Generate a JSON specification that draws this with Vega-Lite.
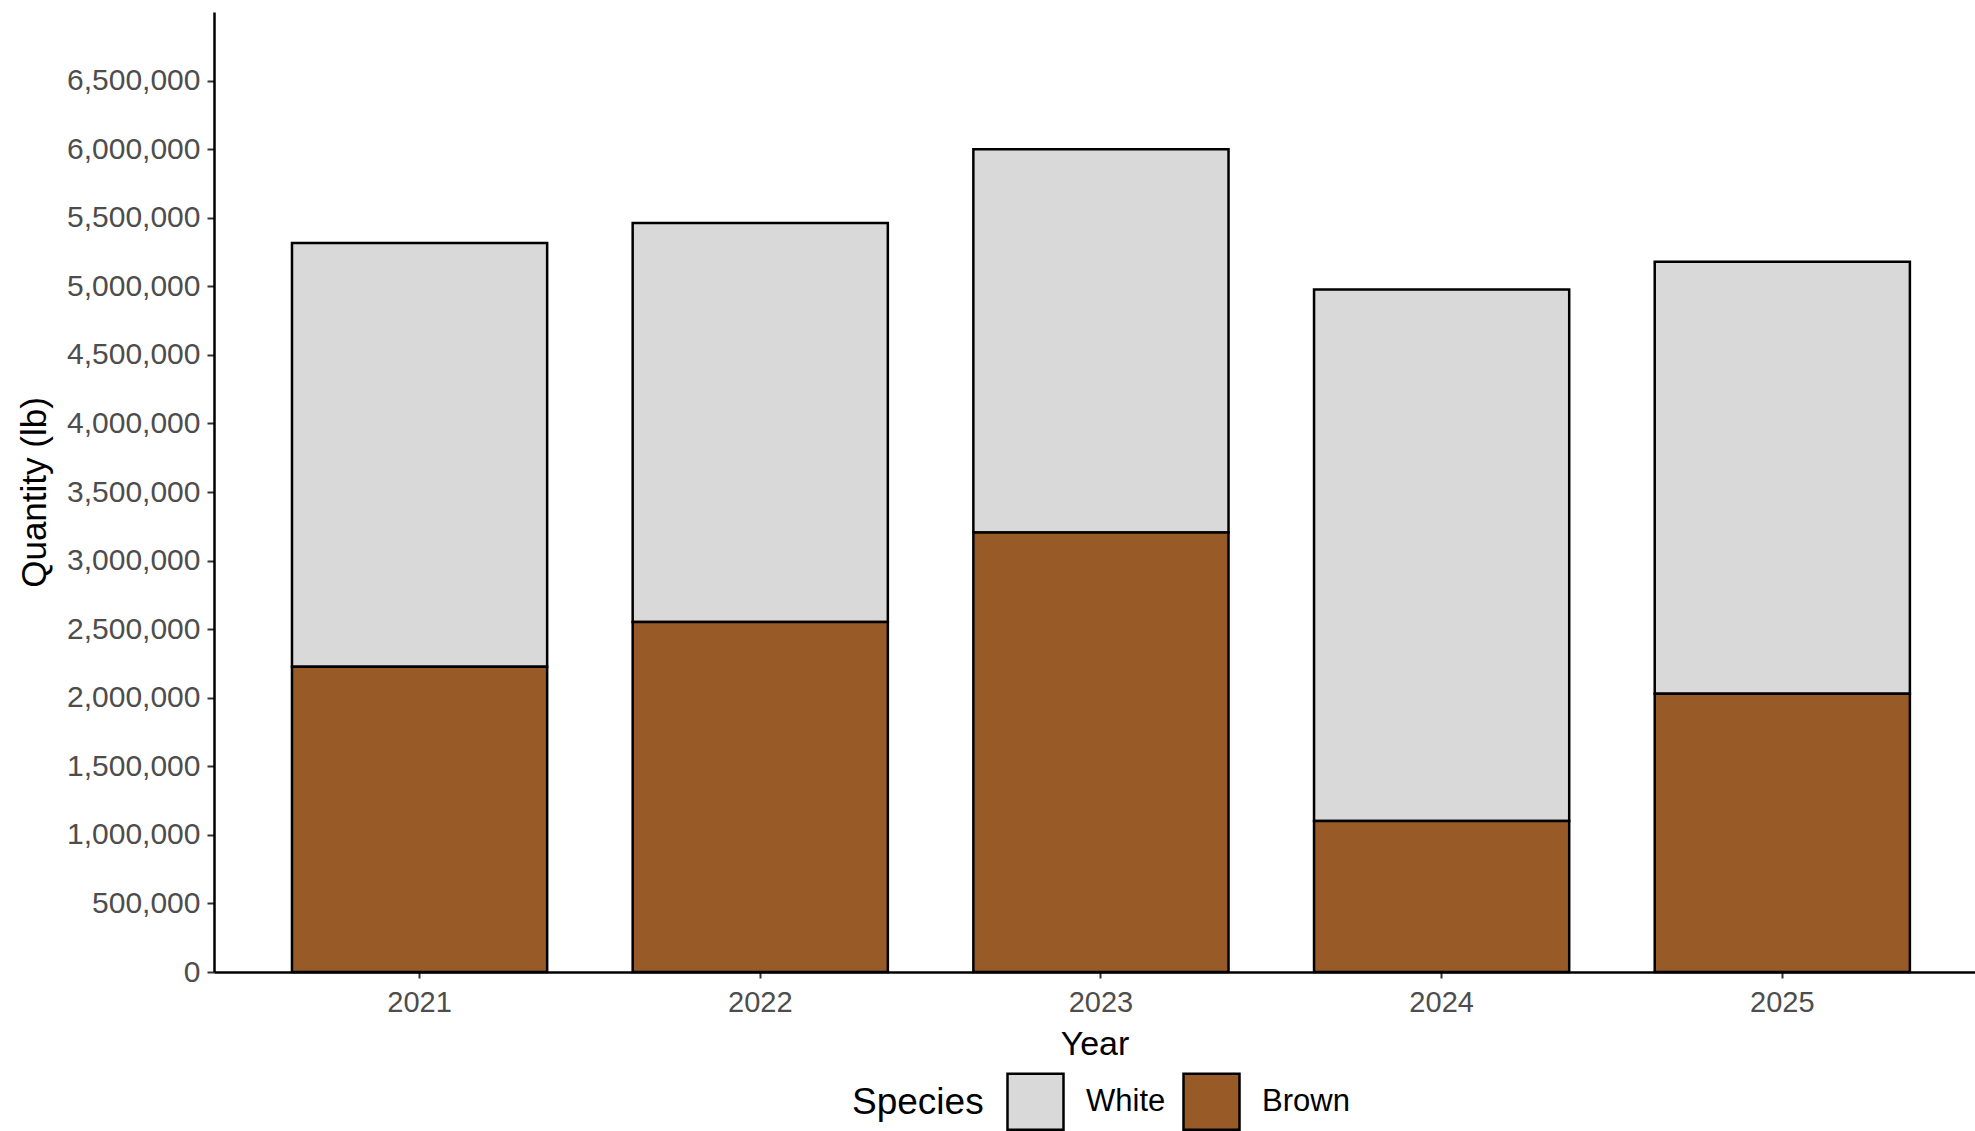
{
  "$schema": "https://vega.github.io/schema/vega-lite/v6.json",
  "autosize": {"type": "none"},
  "padding": {"left": 214, "top": 12, "right": 0, "bottom": 159},
  "width": 1761,
  "height": 960,
  "background": "white",
  "data": {
    "values": [
      {"Year": "2021", "Species": "White", "Quantity": 3090000},
      {"Year": "2021", "Species": "Brown", "Quantity": 2225000},
      {"Year": "2022", "Species": "White", "Quantity": 2910000},
      {"Year": "2022", "Species": "Brown", "Quantity": 2552000},
      {"Year": "2023", "Species": "White", "Quantity": 2796000},
      {"Year": "2023", "Species": "Brown", "Quantity": 3204000},
      {"Year": "2024", "Species": "White", "Quantity": 3875000},
      {"Year": "2024", "Species": "Brown", "Quantity": 1101000},
      {"Year": "2025", "Species": "White", "Quantity": 3149000},
      {"Year": "2025", "Species": "Brown", "Quantity": 2029000}
    ]
  },
  "mark": {"type": "bar", "stroke": "black", "strokeWidth": 2.5},
  "encoding": {
    "x": {
      "field": "Year",
      "type": "ordinal",
      "title": "Year",
      "scale": {"paddingInner": 0.251, "paddingOuter": 0.21, "align": 0.545},
      "axis": {
        "labelAngle": 0,
        "labelFontSize": 29,
        "labelColor": "#4d4d4d",
        "labelPadding": 10,
        "tickSize": 6,
        "tickWidth": 2,
        "tickColor": "#333333",
        "domainColor": "black",
        "domainWidth": 2.5,
        "titleFontSize": 34,
        "titleFontWeight": "normal",
        "titleColor": "black",
        "titlePadding": 10
      }
    },
    "y": {
      "field": "Quantity",
      "type": "quantitative",
      "stack": "zero",
      "title": "Quantity (lb)",
      "scale": {"domain": [0, 7000000], "nice": false},
      "axis": {
        "values": [0, 500000, 1000000, 1500000, 2000000, 2500000, 3000000, 3500000, 4000000, 4500000, 5000000, 5500000, 6000000, 6500000],
        "format": ",.0f",
        "grid": false,
        "labelFontSize": 30,
        "labelColor": "#4d4d4d",
        "labelPadding": 7,
        "tickSize": 7,
        "tickWidth": 2,
        "tickColor": "#333333",
        "domainColor": "black",
        "domainWidth": 2.5,
        "titleFontSize": 35,
        "titleFontWeight": "normal",
        "titleColor": "black",
        "titlePadding": 14
      }
    },
    "color": {
      "field": "Species",
      "type": "nominal",
      "scale": {"domain": ["White", "Brown"], "range": ["#d9d9d9", "#985a27"]},
      "legend": {
        "orient": "none",
        "direction": "horizontal",
        "legendX": 638,
        "legendY": 1060,
        "title": "Species",
        "titleOrient": "left",
        "titleBaseline": "middle",
        "titleFontSize": 37,
        "titleFontWeight": "normal",
        "titleColor": "black",
        "titlePadding": 22,
        "labelFontSize": 31,
        "labelColor": "black",
        "labelOffset": 21,
        "columnPadding": 12,
        "symbolType": "square",
        "symbolSize": 3136,
        "symbolStrokeColor": "black",
        "symbolStrokeWidth": 2.5,
        "symbolOpacity": 1
      }
    },
    "order": {"field": "Species", "sort": "ascending"}
  },
  "config": {
    "font": "Liberation Sans",
    "view": {"stroke": null}
  }
}
